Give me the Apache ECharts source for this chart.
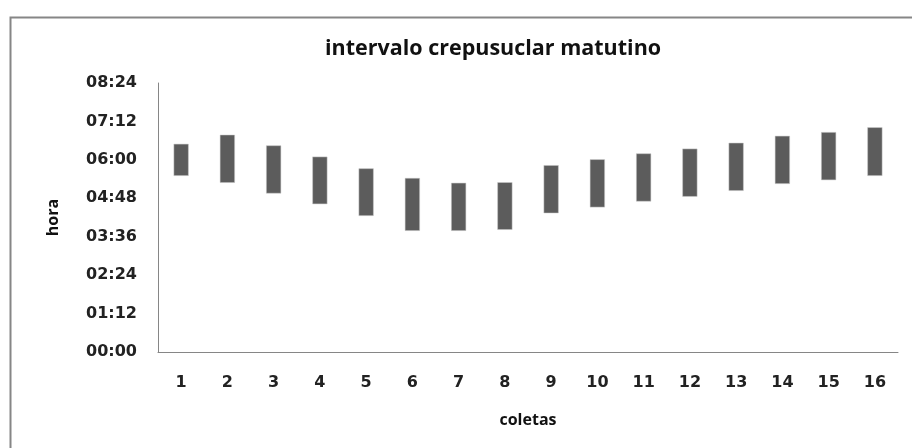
<!DOCTYPE html>
<html>
<head>
<meta charset="utf-8">
<script src="https://cdn.jsdelivr.net/npm/echarts@6/dist/echarts.min.js"></script>
<style>html,body{margin:0;padding:0;background:#fff}#c{width:912px;height:448px}</style>
</head>
<body>
<div id="c"></div>
<script>
const categorias = ['1','2','3','4','5','6','7','8','9','10','11','12','13','14','15','16'];
const inicio = ['05:30','05:17','04:57','04:37','04:15','03:47','03:47','03:49','04:20','04:31','04:42','04:51','05:02','05:15','05:22','05:30'];
const fim    = ['06:30','06:47','06:27','06:06','05:44','05:26','05:17','05:18','05:50','06:01','06:12','06:21','06:32','06:45','06:52','07:01'];
const yMin = 0, yMax = 504, yStep = 72; // minutes: 00:00 .. 08:24 every 01:12

const toMin = s => { const [h, m] = s.split(':').map(Number); return h * 60 + m; };
const fmt = v => { const h = Math.floor(v / 60), m = Math.round(v % 60); return String(h).padStart(2,'0') + ':' + String(m).padStart(2,'0'); };
const base = inicio.map(toMin);
const span = fim.map((f, i) => toMin(f) - base[i]);

const chart = echarts.init(document.getElementById('c'), null, {renderer: 'canvas'});
chart.setOption({
  animation: false,
  backgroundColor: '#ffffff',
  graphic: [{
    type: 'rect', left: 8, top: 15, silent: true,
    shape: {width: 940, height: 480},
    style: {fill: 'none', stroke: '#868686', lineWidth: 2}
  }],
  title: {
    text: 'intervalo crepusuclar matutino',
    left: 320, top: 33,
    textStyle: {fontFamily: 'Open Sans', fontWeight: 'bold', fontSize: 21.5, color: '#111'}
  },
  grid: {left: 158, right: 14, top: 83, bottom: 96, containLabel: false},
  xAxis: {
    type: 'category', data: categorias,
    name: 'coletas', nameLocation: 'middle', nameGap: 60,
    nameTextStyle: {fontFamily: 'Open Sans', fontWeight: 'bold', fontSize: 16, color: '#111'},
    axisLine: {lineStyle: {color: '#868686', width: 1}},
    axisTick: {show: false},
    axisLabel: {margin: 23, fontFamily: 'DejaVu Sans', fontWeight: 'bold', fontSize: 16, color: '#222'},
    splitLine: {show: false}
  },
  yAxis: {
    type: 'value', min: yMin, max: yMax, interval: yStep,
    name: 'hora', nameLocation: 'middle', nameGap: 97, nameRotate: 90,
    nameTextStyle: {fontFamily: 'Open Sans', fontWeight: 'bold', fontSize: 16, color: '#111'},
    axisLine: {show: true, lineStyle: {color: '#868686', width: 1}},
    axisTick: {show: false},
    splitLine: {show: false},
    axisLabel: {formatter: fmt, margin: 21, fontFamily: 'DejaVu Sans', fontWeight: 'bold', fontSize: 16, color: '#222'}
  },
  series: [
    {type: 'bar', stack: 'r', data: base, barWidth: 15, itemStyle: {color: 'transparent'}, silent: true},
    {type: 'bar', stack: 'r', data: span, barWidth: 15, itemStyle: {color: '#5c5c5c', borderColor: '#c8c8c8', borderWidth: 0.5}}
  ]
});
</script>
</body>
</html>
